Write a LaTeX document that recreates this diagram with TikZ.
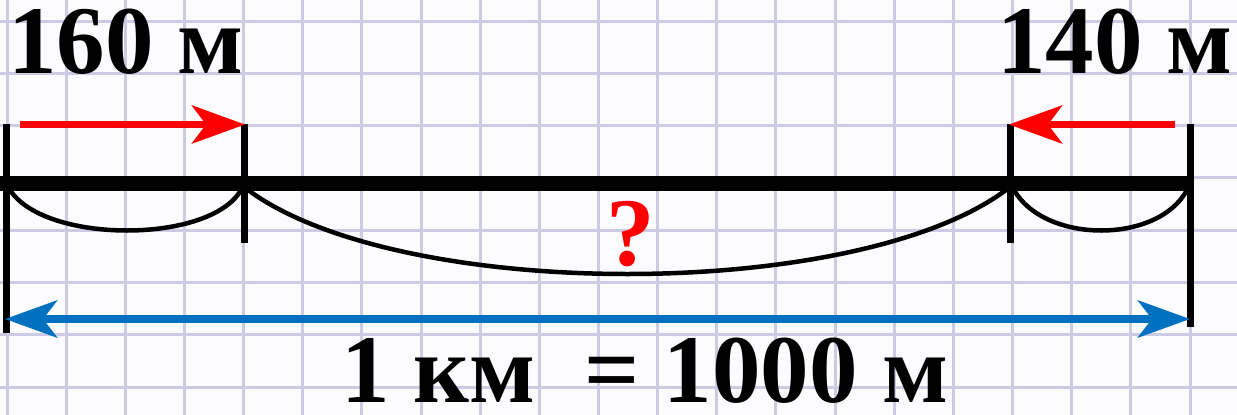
\documentclass[tikz,border=0pt]{standalone}
\usepackage{fontspec}
\setmainfont{Liberation Serif}
\usetikzlibrary{arrows.meta}
\definecolor{gridc}{RGB}{203,203,228}
\definecolor{paperc}{RGB}{252,252,255}
\definecolor{redc}{RGB}{255,0,0}
\definecolor{bluec}{RGB}{0,112,192}
\tikzset{
  gridline/.style={gridc,line width=3pt},
  road/.style={black,line width=15pt},
  bar/.style={black,line width=7pt},
  brace/.style={black,line width=4.5pt},
  redarrow/.style={-{Stealth[length=53pt,width=38pt,inset=14pt]},redc,line width=7pt},
  bluearrow/.style={{Stealth[length=52pt,width=37pt,inset=14pt]}-{Stealth[length=52pt,width=37pt,inset=14pt]},bluec,line width=8pt},
  lbl/.style={font=\fontsize{97}{97}\selectfont\bfseries,inner sep=0pt,text depth=0pt},
}

\begin{document}
\begin{tikzpicture}[x=1pt,y=-1pt]
  \useasboundingbox (0,0) rectangle (1237,415);
  \fill[paperc] (0,0) rectangle (1237,415);
  % squared paper
  \foreach \i in {0,...,20} \draw[gridline] ({7+59.15*\i},0) -- ({7+59.15*\i},415);
  \foreach \j in {0,...,7} \draw[gridline] (0,{21+52.3*\j}) -- (1237,{21+52.3*\j});
  % the road and its marks
  \coordinate (roadL) at (0,183.5);
  \coordinate (roadR) at (1194,183.5);
  \draw[road] (roadL) -- (roadR);
  \coordinate (aTop) at (6,124);     \coordinate (aBot) at (6,333);
  \coordinate (bTop) at (244.5,124); \coordinate (bBot) at (244.5,243);
  \coordinate (cTop) at (1010.5,124);\coordinate (cBot) at (1010.5,243);
  \coordinate (dTop) at (1190,124);  \coordinate (dBot) at (1190,327);
  \draw[bar] (aTop) -- (aBot);
  \draw[bar] (bTop) -- (bBot);
  \draw[bar] (cTop) -- (cBot);
  \draw[bar] (dTop) -- (dBot);
  % braces under the parts
  \draw[brace] (10,190) .. controls (45,244) and (210,244) .. (241,190);
  \draw[brace] (248,190) .. controls (400,302) and (855,302) .. (1006,190);
  \draw[brace] (1014,190) .. controls (1045,244) and (1158,244) .. (1187,190);
  % red arrows
  \coordinate (r1s) at (20,124.5);   \coordinate (r1e) at (245,124.5);
  \coordinate (r2s) at (1175,124.5); \coordinate (r2e) at (1009,124.5);
  \draw[redarrow] (r1s) -- (r1e);
  \draw[redarrow] (r2s) -- (r2e);
  % whole length
  \coordinate (wL) at (5,319); \coordinate (wR) at (1190,319);
  \draw[bluearrow] (wL) -- (wR);
  % labels
  \node[lbl,anchor=base west] (len1) at (8,73) {160 м};
  \node[lbl,anchor=base west] (len2) at (997,73) {140 м};
  \node[lbl,anchor=base,text=redc] (q) at (631,265) {?};
  \node[lbl,anchor=base west] (total) at (341,402) {1 км\ \ = 1000 м};
\end{tikzpicture}
\end{document}
